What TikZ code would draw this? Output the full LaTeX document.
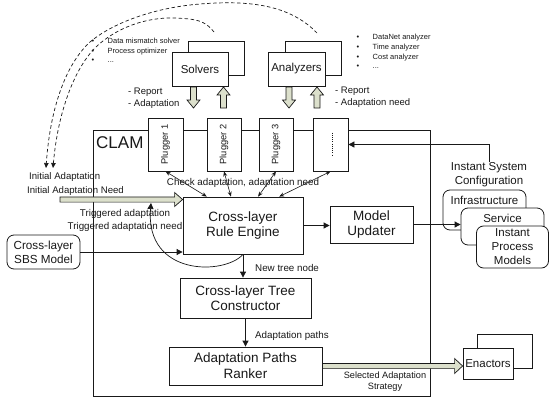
\documentclass[tikz,border=0pt]{standalone}
\usepackage{fontspec}
\setmainfont{Liberation Sans}
\usetikzlibrary{arrows.meta,calc}

\definecolor{blockfill}{RGB}{220,224,204}
\definecolor{ink}{RGB}{25,25,25}

\newcommand\fsz[2]{\fontsize{#1}{#2}\selectfont}

% Wide block arrow between two named points:
% #1 tail, #2 tip, #3 shaft half width, #4 head half width, #5 head length
\newcommand\blockarrow[5]{%
  \coordinate (ba-h) at ($(#2)!#5!(#1)$);
  \path[bigarrow] ($(#1)!#3!90:(#2)$) -- ($(ba-h)!#3!-90:(#1)$) -- ($(ba-h)!#4!-90:(#1)$)
    -- (#2) -- ($(ba-h)!#4!90:(#1)$) -- ($(ba-h)!#3!90:(#1)$) -- ($(#1)!#3!-90:(#2)$) -- cycle;}

\tikzset{
  box/.style={draw=ink, line width=0.8pt, fill=white, inner sep=1pt, align=center, text=ink},
  rbox/.style={box, rounded corners=7pt},
  lbl/.style={inner sep=0pt, align=center, text=ink},
  bigarrow/.style={draw=ink, line width=0.7pt, fill=blockfill},
  conn/.style={draw=ink, line width=0.8pt, -{Triangle[length=6pt,width=6pt]}},
  biconn/.style={draw=ink, line width=0.6pt, {Stealth[length=5pt,width=4pt]}-{Stealth[length=5pt,width=4pt]}},
  dashconn/.style={draw=ink, line width=0.7pt, dash pattern=on 3.5pt off 2.5pt, -{Triangle[length=5pt,width=4.5pt]}},
  dotline/.style={draw=ink, line width=0.8pt, dash pattern=on 0.8pt off 1.4pt},
}

\begin{document}
\begin{tikzpicture}[x=1pt,y=-1pt]
\useasboundingbox (0,0) rectangle (550,399);

% ---- CLAM frame and its pluggers ----
\node[box, inner sep=0pt, minimum width=337pt, minimum height=266pt] (clam) at (261.5,263) {};
\node[lbl, anchor=base west, font=\fsz{17}{20}] (clamlbl) at (96,148) {CLAM};

\node[box, minimum width=35pt, minimum height=53pt] (p1) at (165.5,144.5) {};
\node[box, minimum width=34pt, minimum height=53pt] (p2) at (224,144.5) {};
\node[box, minimum width=34pt, minimum height=53pt] (p3) at (276,144.5) {};
\node[box, minimum width=35pt, minimum height=53pt] (p4) at (330.5,144.5) {};
\node[lbl, rotate=90, font=\fsz{9.3}{11}] (p1t) at (p1.center) {Plugger 1};
\node[lbl, rotate=90, font=\fsz{9.3}{11}] (p2t) at (p2.center) {Plugger 2};
\node[lbl, rotate=90, font=\fsz{9.3}{11}] (p3t) at (p3.center) {Plugger 3};
\coordinate (p4dt) at ($(p4.center)+(1.5,-12)$);
\coordinate (p4db) at ($(p4.center)+(1.5,12)$);
\draw[dotline] (p4dt) -- (p4db);

% ---- solvers and analyzers ----
\node[box, minimum width=56pt, minimum height=34pt] (svb) at (216,58) {};
\node[box, minimum width=56pt, minimum height=34pt, font=\fsz{11.5}{13}] (sv) at (200,69) {Solvers};
\node[box, minimum width=56pt, minimum height=34pt] (anb) at (313,58) {};
\node[box, minimum width=57pt, minimum height=34pt, font=\fsz{11.5}{13}] (an) at (296.5,69) {Analyzers};

\node[lbl, anchor=west, align=left, font=\fsz{7.5}{9.5}] (svlist) at (91.5,50.5)
  {\makebox[16pt][l]{•}Data mismatch solver\\\makebox[16pt][l]{•}Process optimizer\\\makebox[16pt][l]{•}...};
\node[lbl, anchor=west, align=left, font=\fsz{7.5}{9.6}] (anlist) at (356.5,51.5)
  {\makebox[16pt][l]{•}DataNet analyzer\\\makebox[16pt][l]{•}Time analyzer\\\makebox[16pt][l]{•}Cost analyzer\\\makebox[16pt][l]{•}...};

\node[lbl, anchor=west, align=left, font=\fsz{9.5}{12}] (svrep) at (128,98) {- Report\\- Adaptation};
\node[lbl, anchor=west, align=left, font=\fsz{9.5}{12}] (anrep) at (335,97) {- Report\\- Adaptation need};

\coordinate (sd1) at (193.5,87);  \coordinate (sd2) at (193.5,108);
\coordinate (su1) at (223.5,108); \coordinate (su2) at (223.5,87);
\coordinate (ad1) at (289,87);    \coordinate (ad2) at (289,108);
\coordinate (au1) at (317,108);   \coordinate (au2) at (317,87);
\blockarrow{sd1}{sd2}{3pt}{6.5pt}{8pt}
\blockarrow{su1}{su2}{3pt}{6.5pt}{8pt}
\blockarrow{ad1}{ad2}{3pt}{6.5pt}{8pt}
\blockarrow{au1}{au2}{3pt}{6.5pt}{8pt}

% ---- processing chain inside CLAM ----
\node[box, minimum width=120pt, minimum height=57pt, font=\fsz{13.5}{15.5}] (re) at (243,225.5) {Cross-layer\\Rule Engine};
\node[box, minimum width=83pt, minimum height=37pt, font=\fsz{13.5}{15.5}] (mu) at (371.5,224.5) {Model\\Updater};
\node[box, minimum width=131pt, minimum height=40pt, font=\fsz{13.5}{14.5}] (tc) at (245.5,298) {Cross-layer Tree\\Constructor};
\node[box, minimum width=153pt, minimum height=38pt, font=\fsz{13.5}{16}] (rk) at (245.5,366) {Adaptation Paths\\Ranker};

\node[lbl, font=\fsz{9.8}{12}] (chk) at (243,183) {Check adaptation, adaptation need};
\draw[biconn] (p1.south) -- ($(re.north west)!0.2!(re.north east)$);
\draw[biconn] (p2.south) -- ($(re.north west)!0.4!(re.north east)$);
\draw[biconn] (p3.south) -- ($(re.north west)!0.625!(re.north east)$);
\draw[biconn] (p4.south) -- ($(re.north west)!0.8!(re.north east)$);

\draw[conn] (re.east) -- (re.east -| mu.west);
\draw[conn] (re.south) -- (re.south |- tc.north);
\draw[conn] (tc.south) -- (rk.north);
\node[lbl, anchor=west, font=\fsz{9.8}{12}] (ntn) at (255,268) {New tree node};
\node[lbl, anchor=west, font=\fsz{9.8}{12}] (ap) at (255,336) {Adaptation paths};

% ---- inputs on the left ----
\node[rbox, minimum width=73pt, minimum height=34pt, font=\fsz{11.7}{14}] (sbs) at (43.5,252) {Cross-layer\\SBS Model};
\draw[conn] (sbs.east) -- (sbs.east -| re.west);

\node[lbl, anchor=west, align=left, font=\fsz{9.6}{14}] (ia) at (27,184) {\hspace{2pt}Initial Adaptation\\Initial Adaptation Need};
\coordinate (iastart) at (60,199.5);
\coordinate (iaend) at (iastart -| re.west);
\blockarrow{iastart}{iaend}{2.6pt}{7pt}{8pt}

\node[lbl, font=\fsz{9.8}{13}] (trigt) at (125,220.5) {Triggered adaptation\\Triggered adaptation need};
\coordinate (trig) at (151,203);
\draw[conn, line width=0.7pt] (re.south) .. controls (225,275) and (145,277) .. (trig);

% ---- system configuration on the right ----
\node[rbox, minimum width=83pt, minimum height=40pt] (inf) at (484.5,210) {};
\node[lbl, font=\fsz{11.5}{13}] (inft) at (484.5,200) {Infrastructure};
\node[rbox, minimum width=83pt, minimum height=37pt] (svc) at (502.5,226.5) {};
\node[lbl, font=\fsz{11.5}{13}] (svct) at (502.5,218) {Service};
\node[rbox, minimum width=72pt, minimum height=42pt, font=\fsz{11.5}{14}] (ipm) at (512.5,247) {Instant\\Process\\Models};
\draw[conn] (mu.east) -- (mu.east -| svc.west);

\node[lbl, font=\fsz{11.5}{13.5}] (isc) at (489,174.5) {Instant System\\Configuration};
\draw[conn] (isc.north) |- (p4.east);

% ---- enactors ----
\node[box, minimum width=55pt, minimum height=34pt] (enb) at (504.5,351) {};
\node[box, minimum width=50pt, minimum height=31pt, font=\fsz{11.5}{13}] (en) at (488,363.5) {Enactors};
\coordinate (selend) at (rk.east -| en.west);
\blockarrow{rk.east}{selend}{2.6pt}{7.5pt}{8pt}
\node[lbl, font=\fsz{9.2}{11.5}] (selt) at (385,381.5) {Selected Adaptation\\Strategy};

% ---- dashed feedback from solvers and analyzers ----
\coordinate (anatop) at (317,33);
\coordinate (svtop) at (214,32);
\coordinate (outerend) at (46,168);
\coordinate (innerend) at (53,168);
\draw[dashconn] (anatop) .. controls (290,5) and (250,0) .. (200,4)
  .. controls (150,8) and (110,25) .. (90,42)
  .. controls (65,65) and (50,110) .. (outerend);
\draw[dashconn] (svtop) .. controls (205,20) and (195,19) .. (175,18)
  .. controls (140,17) and (110,32) .. (93,50)
  .. controls (75,70) and (58,110) .. (innerend);
\end{tikzpicture}
\end{document}
